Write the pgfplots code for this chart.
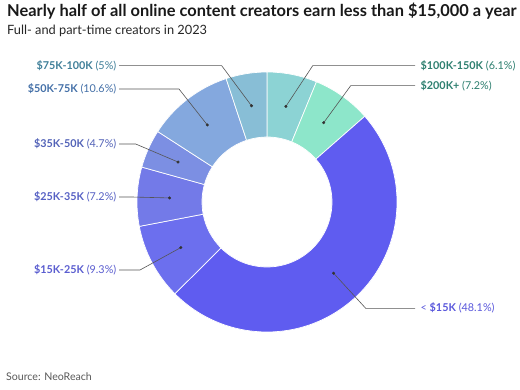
\documentclass[border=0pt]{standalone}
\usepackage{fontspec}
\setmainfont{Lato}
\usepackage{pgfplots}
\usepackage{pgfplotstable}
\pgfplotsset{compat=1.18}
\definecolor{cA}{HTML}{8CD3D4}
\definecolor{cB}{HTML}{8DE6CA}
\definecolor{cC}{HTML}{5F5CF0}
\definecolor{cD}{HTML}{6C6FEE}
\definecolor{cE}{HTML}{737AE8}
\definecolor{cF}{HTML}{7C8FE3}
\definecolor{cG}{HTML}{84A8DE}
\definecolor{cH}{HTML}{88BED6}
\definecolor{tA}{HTML}{2D7F6F}
\definecolor{tC}{HTML}{5A58DC}
\definecolor{tD}{HTML}{5A5DD0}
\definecolor{tE}{HTML}{5660C4}
\definecolor{tF}{HTML}{5363B8}
\definecolor{tG}{HTML}{4470A8}
\definecolor{tH}{HTML}{3F7F99}
\definecolor{lead}{HTML}{555555}
% slices clockwise from 12 o'clock; cum = running total
\pgfplotstableread{
share cum
6.1   6.1
7.2   13.3
48.1  61.4
9.3   70.7
7.2   77.9
4.7   82.6
10.6  93.2
5     98.2
}\sharetable
\def\total{98.2}
\begin{document}
\begin{tikzpicture}
\begin{axis}[hide axis, scale only axis, width=520pt, height=389pt,
  xmin=-267, xmax=253, ymin=-187, ymax=202, clip=false]
\fill[white] (axis cs:-267,-187) rectangle (axis cs:253,202);
\pgfplotsextra{
  \foreach \i/\col in {0/cA,1/cB,2/cC,3/cD,4/cE,5/cF,6/cG,7/cH}{
    \pgfplotstablegetelem{\i}{share}\of\sharetable \let\sh\pgfplotsretval
    \pgfplotstablegetelem{\i}{cum}\of\sharetable \let\cu\pgfplotsretval
    \pgfmathsetmacro\aone{90-((\cu-\sh)/\total)*360}
    \pgfmathsetmacro\atwo{90-(\cu/\total)*360}
    \fill[\col, draw=white, line width=0.7pt]
      ([shift={(axis cs:0,0)}]\aone:130pt) arc[start angle=\aone, end angle=\atwo, radius=130pt]
      -- ([shift={(axis cs:0,0)}]\atwo:65pt) arc[start angle=\atwo, end angle=\aone, radius=65pt] -- cycle;
  }
  \foreach \i/\ex/\ey/\lx in {0/45.7/136.3/148, 1/83.7/116.3/148, 2/98.7/-106.3/148,
      3/-127/-68/-148, 4/-135/5/-148, 5/-131.3/58/-148, 6/-88/113/-148, 7/-45.3/136.3/-148}{
    \pgfplotstablegetelem{\i}{share}\of\sharetable \let\sh\pgfplotsretval
    \pgfplotstablegetelem{\i}{cum}\of\sharetable \let\cu\pgfplotsretval
    \pgfmathsetmacro\amid{90-((\cu-0.5*\sh)/\total)*360}
    \draw[lead, line width=0.6pt] ([shift={(axis cs:0,0)}]\amid:97.5pt) -- (axis cs:\ex,\ey) -- (axis cs:\lx,\ey);
  }
}
\addplot[only marks, mark=*, mark size=1.3pt, color=black!80]
  table[x expr={97.5*cos(90-((\thisrow{cum}-0.5*\thisrow{share})/98.2)*360)},
        y expr={97.5*sin(90-((\thisrow{cum}-0.5*\thisrow{share})/98.2)*360)}]{\sharetable};
% labels
\tikzset{lab/.style={font=\fontsize{10.8}{12}\selectfont, inner sep=0pt}}
\node[lab, anchor=west, text=tA] at (axis cs:153.5,136.3) {\textbf{\$100K-150K} (6.1\%)};
\node[lab, anchor=west, text=tA] at (axis cs:153.5,116.3) {\textbf{\$200K+} (7.2\%)};
\node[lab, anchor=west, text=tC] at (axis cs:153.5,-106.3) {< \textbf{\$15K} (48.1\%)};
\node[lab, anchor=east, text=tD] at (axis cs:-150.5,-68) {\textbf{\$15K-25K} (9.3\%)};
\node[lab, anchor=east, text=tE] at (axis cs:-150.5,5) {\textbf{\$25K-35K} (7.2\%)};
\node[lab, anchor=east, text=tF] at (axis cs:-150.5,58) {\textbf{\$35K-50K} (4.7\%)};
\node[lab, anchor=east, text=tG] at (axis cs:-150.5,113) {\textbf{\$50K-75K} (10.6\%)};
\node[lab, anchor=east, text=tH] at (axis cs:-150.5,136.3) {\textbf{\$75K-100K} (5\%)};
% titles
\node[anchor=base west, inner sep=0pt, font=\fontsize{16.4}{18}\selectfont\bfseries, text=black!90] at (axis cs:-260,185.5) {Nearly half of all online content creators earn less than \$15,000 a year};
\node[anchor=base west, inner sep=0pt, font=\fontsize{12.8}{14}\selectfont, text=black!85] at (axis cs:-260,167.5) {Full- and part-time creators in 2023};
\node[anchor=base west, inner sep=0pt, font=\fontsize{10.6}{12}\selectfont, text=black!65] at (axis cs:-261,-178) {Source: NeoReach};
\end{axis}
\end{tikzpicture}
\end{document}
